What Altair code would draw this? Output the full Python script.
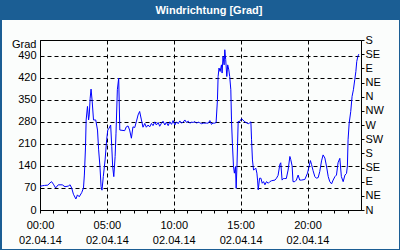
import altair as alt
import pandas as pd

# ---- data (minutes after midnight, wind direction in degrees) ----
minutes = [0, 10, 20, 35, 45, 52, 60, 70, 82, 100, 112, 127, 135, 142, 150, 161, 168, 176, 187, 195,
           199, 204, 207, 213, 218, 221, 225, 229, 234, 240, 250, 258, 263, 269, 274, 278, 284, 292, 299, 304,
           310, 317, 322, 326, 331, 337, 341, 347, 353, 358, 380, 387, 395, 402, 410, 417, 425, 432, 440, 447,
           455, 462, 470, 477, 485, 492, 500, 507, 515, 522, 530, 537, 545, 552, 560, 567, 575, 582, 590, 597,
           605, 612, 620, 627, 635, 642, 650, 657, 665, 672, 680, 687, 695, 702, 710, 717, 725, 732, 740, 747,
           755, 762, 769, 776, 784, 790, 796, 799, 803, 808, 814, 817, 821, 826, 829, 833, 838, 842, 847, 851,
           856, 859, 863, 868, 872, 877, 880, 884, 889, 895, 904, 919, 934, 941, 946, 949, 953, 958, 964, 968,
           973, 976, 979, 985, 991, 997, 1003, 1009, 1016, 1024, 1031, 1039, 1054, 1061, 1068, 1076, 1080, 1086, 1092, 1098,
           1105, 1113, 1121, 1125, 1131, 1135, 1143, 1150, 1158, 1165, 1173, 1188, 1200, 1206, 1213, 1218, 1225, 1233, 1240, 1248,
           1255, 1263, 1270, 1278, 1285, 1293, 1300, 1308, 1315, 1323, 1330, 1337, 1345, 1352, 1360, 1368, 1375, 1379, 1382, 1387,
           1394, 1400, 1406, 1412, 1417, 1421, 1426, 1430]
degrees = [75, 77, 78, 79, 86, 90, 82, 70, 80, 80, 74, 76, 80, 70, 50, 35, 48, 42, 55, 70,
           111, 197, 286, 329, 286, 302, 355, 384, 346, 286, 286, 254, 191, 138, 74, 63, 106, 159, 223, 254,
           260, 270, 201, 138, 106, 170, 244, 382, 419, 254, 252, 264, 267, 254, 228, 264, 262, 280, 302, 313,
           286, 263, 275, 263, 270, 264, 275, 268, 280, 270, 278, 266, 276, 282, 270, 279, 268, 280, 272, 284,
           270, 280, 274, 283, 276, 279, 286, 278, 282, 276, 279, 278, 281, 276, 279, 277, 274, 276, 276, 276,
           276, 284, 272, 276, 276, 278, 350, 424, 451, 440, 461, 435, 488, 461, 509, 478, 424, 461, 445, 424,
           382, 286, 212, 138, 117, 138, 69, 149, 281, 281, 290, 280, 274, 277, 280, 223, 159, 127, 130, 133,
           117, 95, 64, 101, 101, 85, 90, 80, 90, 85, 90, 93, 95, 101, 110, 145, 150, 95, 100, 100,
           100, 127, 170, 160, 140, 90, 90, 95, 111, 95, 95, 97, 117, 135, 157, 145, 125, 106, 101, 103,
           122, 156, 175, 165, 140, 106, 90, 83, 95, 106, 111, 150, 164, 106, 90, 111, 116, 140, 223, 276,
           313, 361, 382, 414, 440, 472, 488, 495]

left_ticks = [0, 70, 140, 210, 280, 350, 420, 490]
right_ticks = [0, 45, 90, 135, 180, 225, 270, 315, 360, 405, 450, 495, 540]
compass = ["N", "NE", "E", "SE", "S", "SW", "W", "NW"]
title_text = "Windrichtung [Grad]"
y_title = "Grad"

times = ["2014-04-02T%02d:%02d:00" % (m // 60, m % 60) for m in minutes]
df = pd.DataFrame({"t": times, "v": degrees})
one = pd.DataFrame({"a": [0]})

FONT = "Liberation Sans"
BLUE = "#1b5e94"


def dt(h, d=2):
    return alt.DateTime(year=2014, month=4, date=d, hours=h, minutes=0)


x_axis = alt.Axis(
    values=[dt(h) for h in range(24)],
    labelExpr="hours(datum.value) % 5 == 0 ? [timeFormat(datum.value, '%H:%M'), timeFormat(datum.value, '%d.%m.%y')] : ''",
    tickSize=3, tickColor="black", domainColor="black",
    grid=True, gridColor="black", gridDash=[4, 3],
    gridOpacity={"condition": {"test": "hours(datum.value) % 5 == 0", "value": 1}, "value": 0},
    labelPadding=6, labelLineHeight=15, labelBaseline="top", labelAlign="center",
    labelOverlap=False, labelFlush=False, labelColor="black",
    labelFont=FONT, labelFontSize=11, title=None,
)
x_scale = alt.Scale(domain=[dt(0), dt(0, 3)])

line = alt.Chart(df).mark_line(color="#0000ff", strokeWidth=1).encode(
    x=alt.X("t:T", scale=x_scale, axis=x_axis),
    y=alt.Y(
        "v:Q",
        scale=alt.Scale(domain=[0, 540], nice=False, zero=False),
        axis=alt.Axis(
            values=left_ticks, grid=True, gridColor="black", gridDash=[4, 3],
            tickSize=0, domainColor="black", labelPadding=4, labelColor="black",
            labelFont=FONT, labelFontSize=11,
            title=y_title, titleAngle=0, titleX=-4, titleY=7.5, titleAlign="right",
            titleBaseline="alphabetic", titleFontWeight="normal", titleFont=FONT,
            titleFontSize=11, titleColor="black",
        ),
    ),
)

right = alt.Chart(df).mark_line(opacity=0).encode(
    x=alt.X("t:T", scale=x_scale, axis=x_axis),
    y=alt.Y(
        "v:Q",
        scale=alt.Scale(domain=[0, 540], nice=False, zero=False),
        axis=alt.Axis(
            orient="right", values=right_ticks,
            labelExpr="%s[round(datum.value / 45) %% 8]" % str(compass),
            tickSize=3, tickColor="black", domainColor="black", grid=False,
            labelPadding=1, labelColor="black", labelFont=FONT, labelFontSize=11,
            labelAlign="left", title=None,
        ),
    ),
)

bar = alt.Chart(one).mark_rect(color=BLUE).encode(
    x=alt.value(-40), x2=alt.value(360), y=alt.value(-40), y2=alt.value(-20))
b_left = alt.Chart(one).mark_rect(color=BLUE).encode(
    x=alt.value(-40), x2=alt.value(-38), y=alt.value(-20), y2=alt.value(210))
b_right = alt.Chart(one).mark_rect(color=BLUE).encode(
    x=alt.value(359), x2=alt.value(360), y=alt.value(-20), y2=alt.value(210))
b_bottom = alt.Chart(one).mark_rect(color=BLUE).encode(
    x=alt.value(-40), x2=alt.value(360), y=alt.value(209), y2=alt.value(210))
title = alt.Chart(one).mark_text(
    color="white", font=FONT, fontSize=11, fontWeight="bold",
    align="center", baseline="alphabetic",
).encode(x=alt.value(169), y=alt.value(-26.5), text=alt.value(title_text))

chart = alt.layer(line, right, bar, b_left, b_right, b_bottom, title).resolve_scale(
    y="independent"
).properties(
    width=321, height=170,
    autosize=alt.AutoSizeParams(type="none"),
    padding={"left": 40, "top": 40, "right": 39, "bottom": 40},
    background="#fbfdfc",
).configure_view(stroke="black", strokeWidth=1)

chart.save("out.html", embed_options={"renderer": "svg", "actions": False})
